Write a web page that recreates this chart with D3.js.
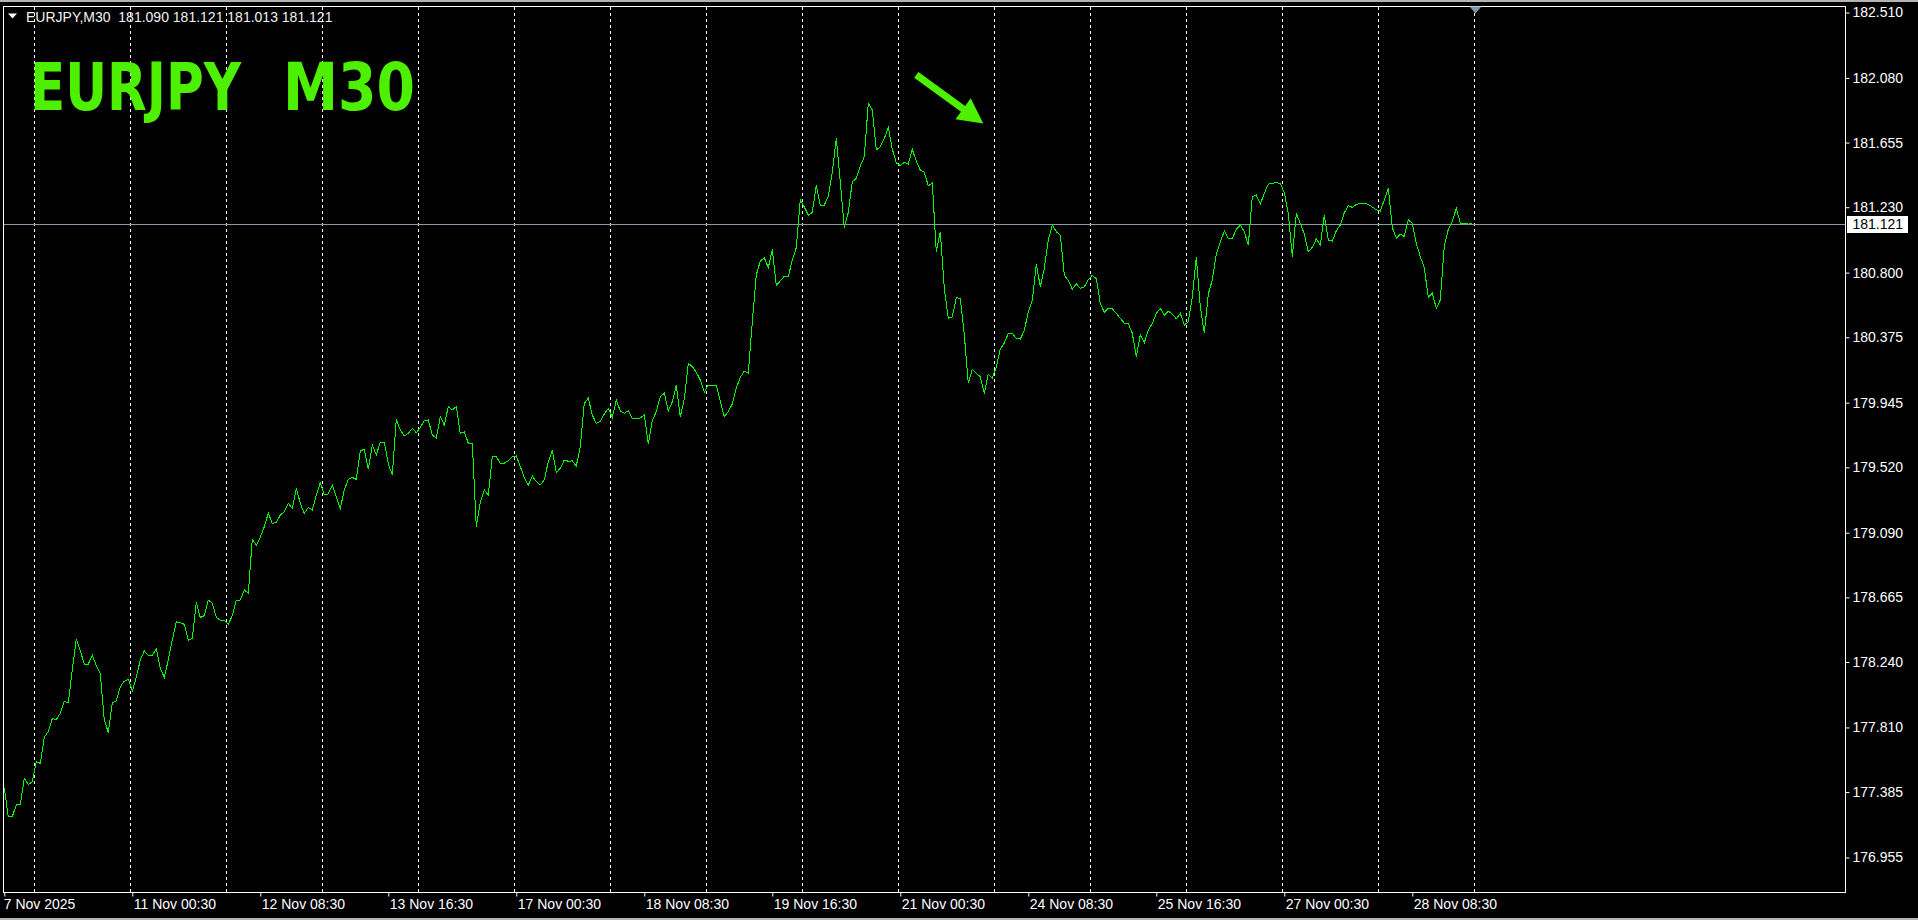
<!DOCTYPE html>
<html><head><meta charset="utf-8">
<script src="https://cdn.jsdelivr.net/npm/d3@7"></script>
<style>
html,body{margin:0;padding:0;background:#000;overflow:hidden;}
svg{display:block;}
</style></head><body>
<svg id="c" width="1918" height="920"></svg>
<script>
// ---------------- data ----------------
const symbol = "EURJPY";
const period = "M30";
const ohlcLast = [181.090, 181.121, 181.013, 181.121];
const tradingDays = ["2025-11-07","2025-11-10","2025-11-11","2025-11-12","2025-11-13","2025-11-14",
  "2025-11-17","2025-11-18","2025-11-19","2025-11-20","2025-11-21",
  "2025-11-24","2025-11-25","2025-11-26","2025-11-27","2025-11-28"];
const firstBarTime = "16:30";
const barMinutes = 30;
const closeStepBars = 2; // one close read per hour (every 2nd M30 bar)
const closes = [
177.410,177.224,177.224,177.301,177.301,177.476,177.434,177.454,177.585,177.574,177.745,177.785,
177.868,177.862,177.903,177.982,177.973,178.188,178.390,178.313,178.227,178.227,178.284,178.216,
178.162,177.859,177.776,177.973,177.984,178.078,178.114,178.127,178.048,178.140,178.254,178.313,
178.282,178.284,178.326,178.199,178.138,178.254,178.385,178.504,178.499,178.488,178.381,178.396,
178.631,178.532,178.545,178.646,178.628,178.534,178.515,178.515,178.488,178.545,178.646,178.648,
178.714,178.692,179.047,179.009,179.060,179.130,179.218,179.152,179.156,179.207,179.228,179.283,
179.250,179.382,179.283,179.218,179.257,179.239,179.338,179.419,179.338,179.345,179.404,179.327,
179.250,179.371,179.441,179.454,179.441,179.629,179.638,179.507,179.667,179.601,179.686,179.686,
179.542,179.470,179.835,179.765,179.726,179.743,179.776,179.748,179.783,179.827,179.831,179.732,
179.711,179.853,179.798,179.919,179.897,179.919,179.743,179.754,179.678,179.678,179.130,179.288,
179.371,179.338,179.590,179.590,179.547,179.547,179.564,179.590,179.595,179.525,179.454,179.402,
179.463,179.426,179.404,179.437,179.557,179.634,179.485,179.514,179.568,179.560,179.562,179.529,
179.656,179.941,179.974,179.864,179.809,179.823,179.871,179.906,179.849,179.961,179.891,179.875,
179.893,179.838,179.840,179.845,179.864,179.674,179.827,179.886,179.985,180.007,179.891,179.950,
180.059,179.853,179.969,180.204,180.182,180.145,180.094,180.015,180.061,180.057,180.057,179.956,
179.853,179.886,179.937,180.040,180.111,180.153,180.138,180.477,180.784,180.876,180.898,180.832,
180.953,180.714,180.745,180.777,180.773,180.883,180.964,181.277,181.231,181.178,181.196,181.376,
181.240,181.244,181.303,181.459,181.682,181.393,181.095,181.196,181.398,181.419,181.501,181.562,
181.913,181.869,181.606,181.628,181.682,181.755,181.612,181.522,181.503,181.525,181.514,181.610,
181.533,181.474,181.459,181.371,181.389,180.937,181.069,180.696,180.499,180.510,180.635,180.631,
180.390,180.072,180.166,180.138,180.116,180.005,180.133,180.105,180.181,180.298,180.337,180.401,
180.401,180.368,180.363,180.418,180.543,180.620,180.856,180.707,180.828,181.014,181.113,181.069,
181.047,180.784,180.747,180.692,180.727,180.696,180.707,180.753,180.782,180.760,180.598,180.539,
180.565,180.563,180.532,180.499,180.468,180.466,180.401,180.247,180.390,180.339,180.422,180.466,
180.532,180.565,180.521,180.547,180.528,180.497,180.532,180.455,180.477,180.635,180.905,180.576,
180.401,180.659,180.751,180.922,180.999,181.075,181.025,181.025,181.084,181.113,181.069,180.981,
181.299,181.310,181.251,181.321,181.382,181.387,181.391,181.387,181.325,181.189,180.905,181.189,
181.124,181.054,180.937,180.966,181.021,180.981,181.178,181.014,181.008,181.075,181.113,181.194,
181.240,181.229,181.249,181.255,181.255,181.249,181.231,181.214,181.205,181.277,181.354,181.095,
181.027,181.054,181.038,181.146,181.124,180.992,180.905,180.832,180.637,180.664,180.565,180.620,
180.975,181.084,181.139,181.222,181.126,181.124,181.119,181.121
];
const yTicks = [182.510,182.080,181.655,181.230,180.800,180.375,179.945,179.520,179.090,178.665,178.240,177.810,177.385,176.955];
const xTickLabels = ["7 Nov 2025","11 Nov 00:30","12 Nov 08:30","13 Nov 16:30","17 Nov 00:30","18 Nov 08:30",
  "19 Nov 16:30","21 Nov 00:30","24 Nov 08:30","25 Nov 16:30","27 Nov 00:30","28 Nov 08:30"];
const xTickEveryBars = 64;
const arrowFrom = {bar: 456, price: 182.10};
const arrowTo = {bar: 489.5, price: 181.78};

// ---------------- layout ----------------
const W = 1918, H = 920;
const plotLeft = 3.5, plotTop = 6.5, plotRight = 1845.5, plotBottom = 892.5;
const firstBarX = 4.3, barPx = 2;
const lineColor = "#00ff00", titleColor = "#4cf000";
const axisFont = "'Liberation Sans', Arial, sans-serif";

const svg = d3.select("#c");
svg.append("rect").attr("width", W).attr("height", H).attr("fill", "#000");
svg.append("rect").attr("x",0).attr("y",0).attr("width",W).attr("height",2).attr("fill","#b4b4b4");
svg.append("rect").attr("x",0).attr("y",H-2).attr("width",W).attr("height",2).attr("fill","#b4b4b4");

// bar timeline (M30, weekends skipped)
const parse = d3.timeParse("%Y-%m-%d %H:%M");
const bars = [];
tradingDays.forEach((day, i) => {
  let t = parse(day + " " + (i === 0 ? firstBarTime : "00:00"));
  const end = d3.timeDay.offset(parse(day + " 00:00"), 1);
  while (t < end) { bars.push(t); t = d3.timeMinute.offset(t, barMinutes); }
});
const dayStarts = d3.range(1, bars.length).filter(i => bars[i].getHours() === 0 && bars[i].getMinutes() === 0);
dayStarts.push(bars.length);

const x = d3.scaleLinear().domain([0, bars.length]).range([firstBarX, firstBarX + barPx * bars.length]);
const y = d3.scaleLinear().domain(d3.extent(yTicks)).range([857.5, 12.5]);

// day separators
svg.append("g").selectAll("line").data(dayStarts).join("line")
  .attr("x1", d => Math.round(x(d)) + 0.5).attr("x2", d => Math.round(x(d)) + 0.5)
  .attr("y1", plotTop).attr("y2", plotBottom)
  .attr("stroke", "#ffffff").attr("stroke-width", 1).attr("stroke-dasharray", "3,3")
  .attr("shape-rendering", "crispEdges");

// current price line
const py = Math.round(y(ohlcLast[3])) + 0.5;
svg.append("line").attr("x1", plotLeft).attr("x2", plotRight).attr("y1", py).attr("y2", py)
  .attr("stroke", "#8c9aa8").attr("stroke-width", 1).attr("shape-rendering", "crispEdges");

// price line
const line = d3.line().x((d, i) => x(i * closeStepBars)).y(d => y(d));
svg.append("path").datum(closes).attr("d", line)
  .attr("fill", "none").attr("stroke", lineColor).attr("stroke-width", 1)
  .attr("shape-rendering", "crispEdges");

// frame
svg.append("rect").attr("x", plotLeft).attr("y", plotTop)
  .attr("width", plotRight - plotLeft).attr("height", plotBottom - plotTop)
  .attr("fill", "none").attr("stroke", "#ffffff").attr("stroke-width", 1)
  .attr("shape-rendering", "crispEdges");

// y axis
const yAxis = d3.axisRight(y).tickValues(yTicks).tickFormat(d3.format(".3f")).tickSize(4).tickPadding(3);
svg.append("g").attr("transform", `translate(${plotRight},0)`).call(yAxis)
  .attr("font-family", axisFont).attr("font-size", 14)
  .call(g => g.select(".domain").remove())
  .call(g => g.selectAll(".tick line").attr("stroke", "#ffffff"))
  .call(g => g.selectAll(".tick text").attr("fill", "#ffffff"));

// current price label
const lblG = svg.append("g");
lblG.append("rect").attr("x", plotRight + 1.5).attr("y", py - 8.5).attr("width", 61).attr("height", 17)
  .attr("fill", "#ffffff");
lblG.append("text").attr("x", plotRight + 7).attr("y", py).attr("dy", "0.35em")
  .attr("font-family", axisFont).attr("font-size", 14).attr("fill", "#000")
  .text(d3.format(".3f")(ohlcLast[3]));

// x axis
const xAxis = d3.axisBottom(x).tickValues(xTickLabels.map((_, i) => i * xTickEveryBars))
  .tickFormat((d, i) => xTickLabels[i]).tickSize(4).tickPadding(3);
svg.append("g").attr("transform", `translate(0,${plotBottom})`).call(xAxis)
  .attr("font-family", axisFont).attr("font-size", 14)
  .call(g => g.select(".domain").remove())
  .call(g => g.selectAll(".tick line").attr("stroke", "#ffffff"))
  .call(g => g.selectAll(".tick text").attr("fill", "#ffffff").attr("text-anchor", "start").attr("dx", (d, i) => i === 0 ? -1 : 1));

// chart shift marker
const sx = Math.round(x(bars.length)) + 1.5;
svg.append("path").attr("d", `M${sx - 6},${plotTop} L${sx + 6},${plotTop} L${sx},${plotTop + 7} Z`)
  .attr("fill", "#8494a6");

// header
svg.append("path").attr("d", "M8,13.5 L17,13.5 L12.5,18.5 Z").attr("fill", "#ffffff");
svg.append("text").attr("x", 26).attr("y", 22).attr("font-family", axisFont).attr("font-size", 14)
  .attr("fill", "#f2f2f2").style("white-space", "pre")
  .text(`${symbol},${period}  ${ohlcLast.map(d3.format(".3f")).join(" ")}`);

// big title
const title = svg.append("text").attr("y", 110)
  .attr("font-family", "'DejaVu Sans Condensed','DejaVu Sans',sans-serif")
  .attr("font-weight", "bold").attr("font-size", 66).attr("fill", titleColor);
title.append("tspan").attr("x", 30).attr("textLength", 211).attr("lengthAdjust", "spacingAndGlyphs").text(symbol);
title.append("tspan").attr("x", 283).attr("textLength", 132).attr("lengthAdjust", "spacingAndGlyphs").text(period);

// arrow annotation
(function () {
  const x0 = x(arrowFrom.bar), y0 = y(arrowFrom.price);
  const x1 = x(arrowTo.bar), y1 = y(arrowTo.price);
  const dx = x1 - x0, dy = y1 - y0, L = Math.hypot(dx, dy);
  const ux = dx / L, uy = dy / L, nx = -uy, ny = ux;
  const headL = 25, headW = 13, shaftW = 3.6;
  const bx = x1 - ux * headL, by = y1 - uy * headL;
  const pts = [
    [x0 + nx * shaftW, y0 + ny * shaftW],
    [bx + nx * shaftW, by + ny * shaftW],
    [bx + nx * headW, by + ny * headW],
    [x1, y1],
    [bx - nx * headW, by - ny * headW],
    [bx - nx * shaftW, by - ny * shaftW],
    [x0 - nx * shaftW, y0 - ny * shaftW]
  ];
  svg.append("path").attr("d", "M" + pts.map(p => p.join(",")).join("L") + "Z").attr("fill", titleColor);
})();
</script>
</body></html>
